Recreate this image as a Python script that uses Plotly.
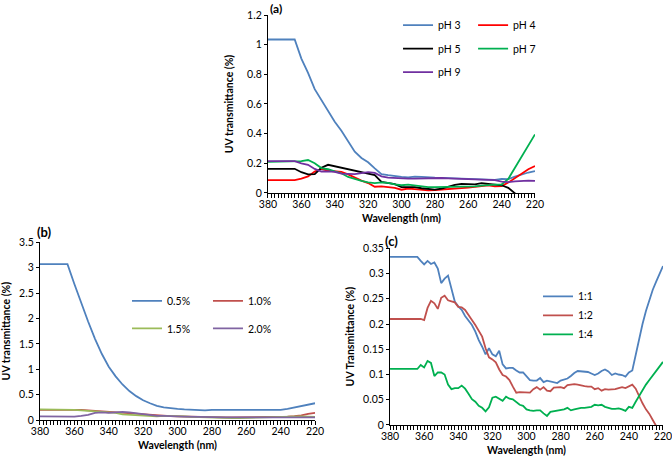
import plotly.graph_objects as go

# ---------------- data ----------------
wl_ab = list(range(380, 219, -4))          # panels (a) and (b)
wl_c = list(range(380, 219, -2))           # panel (c)

ph3 = [1.035, 1.035, 1.035, 1.035, 1.035, 0.906, 0.81, 0.7, 0.625, 0.55,
       0.48, 0.42, 0.345, 0.278, 0.236, 0.207, 0.166, 0.127, 0.12, 0.112,
       0.108, 0.105, 0.11, 0.108, 0.103, 0.103, 0.102, 0.1, 0.098, 0.096,
       0.094, 0.093, 0.091, 0.09, 0.088, 0.095, 0.093, 0.11, 0.125, 0.138, 0.148]
ph4 = [0.087, 0.087, 0.087, 0.087, 0.087, 0.097, 0.112, 0.145, 0.162, 0.15,
       0.146, 0.143, 0.125, 0.103, 0.083, 0.067, 0.042, 0.045, 0.042, 0.035,
       0.022, 0.03, 0.026, 0.02, 0.018, 0.02, 0.022, 0.026, 0.03, 0.033,
       0.036, 0.04, 0.047, 0.052, 0.044, 0.046, 0.07, 0.1, 0.13, 0.16, 0.182]
ph5 = [0.163, 0.163, 0.163, 0.163, 0.163, 0.14, 0.126, 0.127, 0.17, 0.19,
       0.18, 0.167, 0.155, 0.146, 0.14, 0.13, 0.12, 0.075, 0.068, 0.06,
       0.04, 0.038, 0.04, 0.032, 0.025, 0.022, 0.03, 0.045, 0.055, 0.062,
       0.062, 0.058, 0.066, 0.06, 0.055, 0.052, 0.035, -0.005, -0.04, -0.07, -0.1]
ph7 = [0.21, 0.21, 0.21, 0.21, 0.21, 0.215, 0.222, 0.2, 0.168, 0.16,
       0.145, 0.133, 0.108, 0.093, 0.082, 0.072, 0.067, 0.072, 0.068, 0.058,
       0.052, 0.056, 0.05, 0.045, 0.04, 0.04, 0.04, 0.042, 0.045, 0.042,
       0.04, 0.045, 0.05, 0.054, 0.056, 0.057, 0.095, 0.17, 0.245, 0.32, 0.395]
ph9 = [0.215, 0.215, 0.215, 0.215, 0.215, 0.2, 0.19, 0.162, 0.145, 0.145,
       0.143, 0.13, 0.128, 0.127, 0.134, 0.14, 0.135, 0.112, 0.104, 0.1,
       0.097, 0.097, 0.097, 0.099, 0.1, 0.101, 0.101, 0.099, 0.097, 0.094,
       0.091, 0.09, 0.092, 0.09, 0.086, 0.076, 0.073, 0.078, 0.083, 0.083, 0.081]

c05 = [3.07, 3.07, 3.07, 3.07, 3.07, 2.68, 2.3, 1.94, 1.6, 1.3,
       1.05, 0.86, 0.7, 0.57, 0.47, 0.39, 0.33, 0.28, 0.25, 0.23,
       0.22, 0.21, 0.2, 0.2, 0.19, 0.2, 0.2, 0.2, 0.2, 0.2,
       0.2, 0.2, 0.2, 0.2, 0.19, 0.2, 0.22, 0.25, 0.28, 0.3, 0.33]
c10 = [0.2, 0.2, 0.2, 0.2, 0.2, 0.21, 0.2, 0.19, 0.18, 0.17,
       0.15, 0.14, 0.13, 0.12, 0.11, 0.1, 0.09, 0.08, 0.08, 0.075,
       0.07, 0.065, 0.06, 0.06, 0.055, 0.055, 0.055, 0.05, 0.05, 0.055,
       0.055, 0.06, 0.06, 0.06, 0.06, 0.06, 0.065, 0.075, 0.09, 0.12, 0.14]
c15 = [0.21, 0.21, 0.21, 0.21, 0.21, 0.2, 0.19, 0.18, 0.17, 0.16,
       0.15, 0.14, 0.11, 0.1, 0.09, 0.085, 0.075, 0.07, 0.08, 0.08,
       0.075, 0.07, 0.06, 0.055, 0.05, 0.05, 0.05, 0.045, 0.04, 0.04,
       0.045, 0.05, 0.05, 0.055, 0.055, 0.06, 0.065, 0.07, 0.07, 0.065, 0.06]
c20 = [0.07, 0.07, 0.07, 0.07, 0.07, 0.065, 0.08, 0.1, 0.14, 0.15,
       0.14, 0.15, 0.16, 0.15, 0.13, 0.11, 0.09, 0.08, 0.08, 0.08,
       0.07, 0.065, 0.06, 0.055, 0.05, 0.05, 0.05, 0.05, 0.05, 0.05,
       0.05, 0.055, 0.06, 0.06, 0.06, 0.06, 0.06, 0.055, 0.055, 0.05, 0.05]

r11 = [0.333, 0.333, 0.333, 0.333, 0.333, 0.333, 0.333, 0.333, 0.333, 0.325,
       0.318, 0.325, 0.319, 0.322, 0.31, 0.281, 0.29, 0.296, 0.267, 0.244,
       0.235, 0.228, 0.216, 0.208, 0.198, 0.185, 0.168, 0.155, 0.14, 0.152,
       0.14, 0.136, 0.147, 0.12, 0.112, 0.113, 0.113, 0.108, 0.104, 0.104,
       0.097, 0.089, 0.088, 0.088, 0.093, 0.085, 0.088, 0.086, 0.085, 0.083,
       0.088, 0.09, 0.092, 0.097, 0.103, 0.107, 0.106, 0.106, 0.105, 0.102,
       0.099, 0.102, 0.107, 0.11, 0.106, 0.099, 0.102, 0.1, 0.099, 0.096,
       0.104, 0.108, 0.14, 0.172, 0.2, 0.226, 0.248, 0.268, 0.284, 0.3, 0.315]
r12 = [0.21, 0.21, 0.21, 0.21, 0.21, 0.21, 0.21, 0.21, 0.21, 0.21,
       0.208, 0.232, 0.246, 0.241, 0.23, 0.252, 0.256, 0.247, 0.245, 0.243,
       0.234, 0.233, 0.228, 0.219, 0.208, 0.198, 0.185, 0.175, 0.152, 0.134,
       0.13, 0.124, 0.11, 0.099, 0.096, 0.089, 0.076, 0.064, 0.065, 0.065,
       0.064, 0.064, 0.071, 0.075, 0.07, 0.075, 0.068, 0.067, 0.074, 0.075,
       0.075, 0.073, 0.079, 0.08, 0.081, 0.08, 0.078, 0.077, 0.076, 0.076,
       0.071, 0.073, 0.068, 0.071, 0.07, 0.07, 0.071, 0.073, 0.075, 0.073,
       0.077, 0.08, 0.072, 0.056, 0.043, 0.031, 0.022, 0.01, -0.002, -0.014, -0.026]
r14 = [0.111, 0.111, 0.111, 0.111, 0.111, 0.111, 0.111, 0.111, 0.111, 0.119,
       0.114, 0.127, 0.123, 0.097, 0.104, 0.104, 0.1, 0.08, 0.071, 0.073,
       0.073, 0.078, 0.072, 0.062, 0.051, 0.046, 0.038, 0.034, 0.027, 0.035,
       0.054, 0.056, 0.052, 0.048, 0.056, 0.052, 0.051, 0.046, 0.04, 0.038,
       0.031, 0.029, 0.028, 0.029, 0.029, 0.023, 0.018, 0.026, 0.027, 0.028,
       0.029, 0.031, 0.034, 0.029, 0.031, 0.033, 0.034, 0.034, 0.035, 0.036,
       0.04, 0.039, 0.04, 0.036, 0.034, 0.032, 0.032, 0.033, 0.031, 0.028,
       0.036, 0.034, 0.046, 0.058, 0.07, 0.08, 0.089, 0.098, 0.106, 0.116, 0.125]

for s in (ph3, ph4, ph5, ph7, ph9, c05, c10, c15, c20):
    assert len(s) == len(wl_ab), len(s)
for s in (r11, r12, r14):
    assert len(s) == len(wl_c), len(s)

xticks = [380, 360, 340, 320, 300, 280, 260, 240, 220]

FONT = "Lato"
BLUE = "#4F81BD"

fig = go.Figure()

def add(x, y, name, color, xa, ya, legend, grp):
    fig.add_trace(go.Scatter(x=x, y=y, name=name, mode="lines",
                             line=dict(color=color, width=1.8),
                             xaxis=xa, yaxis=ya, legend=legend,
                             legendgroup=grp, showlegend=True))

# panel (a)
add(wl_ab, ph3, "pH 3", BLUE, "x", "y", "legend", "a1")
add(wl_ab, ph4, "pH 4", "#FF0000", "x", "y", "legend2", "a2")
add(wl_ab, ph5, "pH 5", "#000000", "x", "y", "legend", "a3")
add(wl_ab, ph7, "pH 7", "#00B050", "x", "y", "legend2", "a4")
add(wl_ab, ph9, "pH 9", "#7030A0", "x", "y", "legend", "a5")
# panel (b)
add(wl_ab, c05, "0.5%", BLUE, "x2", "y2", "legend3", "b1")
add(wl_ab, c10, "1.0%", "#C0504D", "x2", "y2", "legend4", "b2")
add(wl_ab, c15, "1.5%", "#9BBB59", "x2", "y2", "legend3", "b3")
add(wl_ab, c20, "2.0%", "#8064A2", "x2", "y2", "legend4", "b4")
# panel (c)
add(wl_c, r11, "1:1", BLUE, "x3", "y3", "legend5", "c1")
add(wl_c, r12, "1:2", "#C0504D", "x3", "y3", "legend5", "c2")
add(wl_c, r14, "1:4", "#00B050", "x3", "y3", "legend5", "c3")

def xaxis(domain, anchor):
    return dict(domain=domain, anchor=anchor, range=[380, 220],
                tickvals=xticks, ticks="outside", ticklen=4, tickcolor="black",
                showline=True, linecolor="black", linewidth=1.2,
                showgrid=False, zeroline=False, automargin=False,
                ticklabelstandoff=-3, ticklabeloverflow="allow",
                minor=dict(dtick=2, tick0=220, ticks="outside", ticklen=4,
                           tickcolor="black", showgrid=False),
                tickfont=dict(size=10.5, color="black", family=FONT),
                title=dict(text="<b>Wavelength (nm)</b>", standoff=5,
                           font=dict(size=10.5, color="black", family=FONT)))

def yaxis(domain, anchor, rng, dt, title, standoff):
    return dict(domain=domain, anchor=anchor, range=rng, dtick=dt, tick0=0,
                ticks="outside", ticklen=3, tickcolor="black",
                showline=True, linecolor="black", linewidth=1.2,
                showgrid=False, zeroline=False, automargin=False,
                ticklabeloverflow="allow",
                tickfont=dict(size=10.5, color="black", family=FONT),
                title=dict(text="<b>" + title + "</b>", standoff=standoff,
                           font=dict(size=10.5, color="black", family=FONT)))

def legend(x, y, gap):
    return dict(x=x, y=y, xanchor="left", yanchor="top", bgcolor="rgba(0,0,0,0)",
                borderwidth=0, tracegroupgap=gap, traceorder="grouped",
                font=dict(size=10.5, color="black", family=FONT))

def label(text, px, py, size=13):
    return dict(text="<b>" + text + "</b>", x=px / 672, y=1 - py / 462,
                xref="paper", yref="paper", xanchor="center", yanchor="middle",
                showarrow=False, borderpad=0,
                font=dict(size=size, color="black", family=FONT))

fig.update_layout(
    width=672, height=462,
    margin=dict(l=0, r=0, t=0, b=0, autoexpand=False),
    paper_bgcolor="white", plot_bgcolor="white",
    xaxis=xaxis([0.3988, 0.7961], "y"),
    yaxis=yaxis([0.5823, 0.9675], "x", [0, 1.2], 0.2, "UV transmittance (%)", 11),
    xaxis2=xaxis([0.0595, 0.4688], "y2"),
    yaxis2=yaxis([0.0909, 0.4754], "x2", [0, 3.5], 0.5, "UV transmittance (%)", 6),
    xaxis3=xaxis([0.5804, 0.9866], "y3"),
    yaxis3=yaxis([0.0801, 0.4625], "x3", [0, 0.35], 0.05, "UV Transmittance (%)", 6),
    legend=legend(0.5923, 0.977, 4.5),
    legend2=legend(0.704, 0.977, 4.5),
    legend3=legend(0.189, 0.38, 8.5),
    legend4=legend(0.3095, 0.38, 8.5),
    legend5=legend(0.8006, 0.39, 0),
    annotations=[label("(a)", 276, 9, 12), label("(b)", 44, 232), label("(c)", 391, 241)],
)

fig.write_html("out.html", config={"displayModeBar": False},
               post_script="document.body.style.margin='0';document.body.style.overflow='hidden';")
